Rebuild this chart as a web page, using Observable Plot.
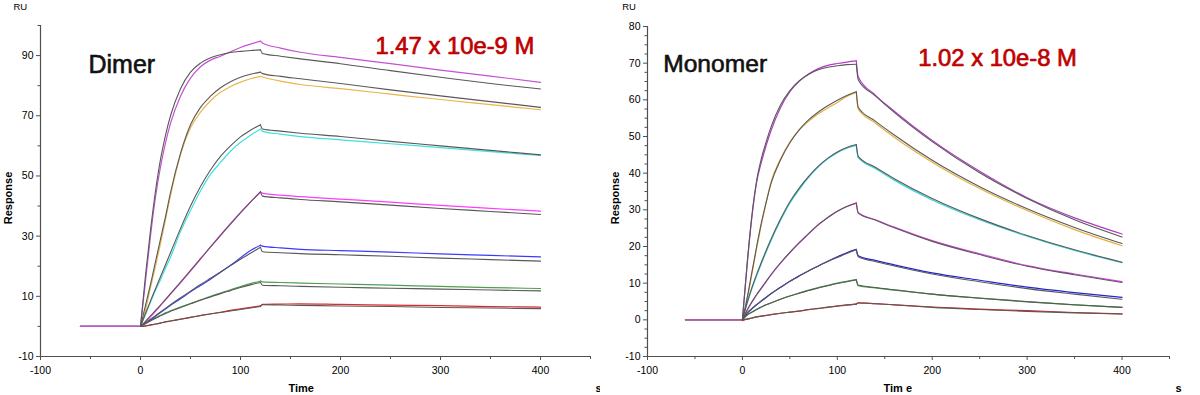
<!DOCTYPE html>
<html><head><meta charset="utf-8">
<script src="https://cdn.jsdelivr.net/npm/d3@7"></script>
<script src="https://cdn.jsdelivr.net/npm/@observablehq/plot@0.6"></script>
<style>
body{margin:0;background:#fff;}
#wrap{display:flex;width:1200px;height:395px;overflow:hidden;}
#wrap svg{display:block;flex:none;}
</style></head><body><div id="wrap"></div>
<script>
// ---------- DATA ----------
const baseTimes = [-60, 0];
const assocTimes = [0, 5, 10, 15, 20, 25, 30, 40, 50, 60, 70, 80, 90, 100, 110, 120];
const dissTimes = [120, 122, 140, 160, 200, 250, 300, 350, 400];

const xMajorTicks = [-100, 0, 100, 200, 300, 400];
const xMinorTicks = [-50, 50, 150, 250, 350, 450];
const dimerYTicks = [-10, 10, 30, 50, 70, 90];
const dimerYMinor = [0, 20, 40, 60, 80, 100];
const monoYTicks = [-10, 0, 10, 20, 30, 40, 50, 60, 70, 80];

const dimerTitle = "Dimer";
const dimerKD = "1.47 x 10e-9 M";
const monoTitle = "Monomer";
const monoKD = "1.02 x 10e-8 M";

// Dimer: measured (coloured) and fitted (black) responses, 7 concentrations, high to low
const dimerAssoc = [
  [0, 15, 30, 43, 53, 61, 67.5, 76.5, 82.5, 86.3, 88.5, 89.8, 91.3, 92.7, 93.8, 94.8],
  [0, 5.5, 13, 20, 27.5, 35.5, 43.5, 57, 66, 71.2, 75, 77.8, 79.7, 81.2, 82.3, 83.1],
  [0, 4, 8, 12, 15.5, 19.3, 23, 31.5, 38.5, 45, 50.5, 54.5, 58.2, 61.2, 63.5, 65.6],
  [0, 1.5, 3.2, 5, 6.9, 8.8, 10.7, 14.5, 18.4, 22.4, 26.4, 30.4, 34.2, 37.9, 41.4, 44.6],
  [0, 1.1, 2.2, 3.4, 4.6, 5.8, 7, 9.2, 11.5, 13.6, 15.7, 18, 20.3, 22.8, 25.2, 27],
  [0, 1.1, 2, 2.9, 3.7, 4.5, 5.2, 6.4, 7.6, 8.8, 10, 11.1, 12.2, 13.2, 14.2, 15.1],
  [0, 0.1, 0.4, 0.8, 1.1, 1.5, 1.8, 2.4, 3.0, 3.6, 4.2, 4.7, 5.3, 5.8, 6.3, 6.8]
];
const dimerAssocFit = [
  [0, 17, 32, 45, 55.5, 63.5, 70, 79, 84.5, 87.5, 89.3, 90.3, 91, 91.4, 91.7, 91.9],
  [0, 7, 14, 21.5, 29, 36.5, 44.5, 57.5, 67, 72.8, 76.5, 79.3, 81.3, 82.8, 83.8, 84.5],
  [0, 4.3, 8.5, 12.5, 16.5, 20.5, 24.5, 32.5, 40, 46.5, 52, 56.5, 60, 63, 65.2, 67],
  [0, 1.7, 3.5, 5.3, 7.1, 9, 10.9, 14.7, 18.6, 22.5, 26.4, 30.2, 34, 37.7, 41.3, 44.8],
  [0, 1.2, 2.4, 3.6, 4.8, 6, 7.2, 9.5, 11.7, 13.9, 16, 18.1, 20.2, 22.3, 24.3, 26.3],
  [0, 0.9, 1.8, 2.7, 3.5, 4.3, 5, 6.3, 7.5, 8.7, 9.8, 10.9, 11.9, 12.9, 13.8, 14.6],
  [0, 0.2, 0.5, 0.8, 1.1, 1.5, 1.8, 2.4, 3.0, 3.6, 4.1, 4.6, 5.1, 5.6, 6.1, 6.6]
];
const dimerDiss = [
  [94.8, 94.2, 92.5, 91.1, 89.4, 87.3, 85.2, 83.2, 81.1],
  [83.1, 82.9, 81.5, 80.4, 79.0, 77.2, 75.4, 73.7, 72.0],
  [65.6, 64.8, 63.9, 63.1, 62.0, 60.7, 59.4, 58.1, 56.8],
  [44.6, 44.3, 43.6, 43.1, 42.3, 41.3, 40.2, 39.2, 38.3],
  [27.0, 26.7, 26.1, 25.6, 25.2, 24.7, 24.1, 23.6, 23.1],
  [15.1, 14.8, 14.6, 14.4, 14.1, 13.7, 13.3, 12.9, 12.6],
  [6.8, 7.3, 7.4, 7.5, 7.3, 7.1, 6.9, 6.6, 6.4]
];
const dimerDissFit = [
  [91.9, 90.7, 89.8, 88.9, 87.3, 85.0, 82.8, 80.7, 78.9],
  [84.5, 84.0, 83.1, 82.3, 80.7, 78.6, 76.6, 74.7, 72.8],
  [67.0, 65.6, 64.9, 64.2, 63.1, 61.5, 60.0, 58.5, 57.0],
  [44.8, 43.3, 42.7, 42.2, 41.4, 40.3, 39.2, 38.2, 37.2],
  [26.3, 24.8, 24.5, 24.2, 23.8, 23.3, 22.7, 22.2, 21.7],
  [14.6, 13.7, 13.5, 13.3, 13.0, 12.7, 12.4, 12.1, 11.8],
  [6.6, 7.2, 7.1, 7.0, 6.8, 6.6, 6.3, 6.1, 5.9]
];

// Monomer
const monoAssoc = [
  [0, 15, 28, 37.5, 43, 47.5, 51.5, 57.8, 62.2, 65.1, 67.1, 68.5, 69.4, 69.9, 70.3, 70.6],
  [0, 5.5, 12.5, 19.5, 26, 32, 37.5, 43.8, 48.5, 51.8, 54.2, 56.2, 57.8, 59.3, 60.9, 62.1],
  [0, 4.5, 8.5, 12, 15.3, 18.5, 21.5, 27.0, 31.8, 35.6, 38.9, 41.7, 43.9, 45.6, 46.8, 47.6],
  [0, 2.6, 4.8, 6.8, 8.6, 10.4, 12.2, 15.4, 18.3, 21, 23.5, 26, 27.9, 29.6, 30.9, 31.9],
  [0, 1.8, 3, 4.1, 5.1, 6.1, 7.1, 8.8, 10.5, 12, 13.4, 14.7, 16, 17.2, 18.3, 19.2],
  [0, 1.4, 2.1, 2.9, 3.5, 4.1, 4.6, 5.6, 6.5, 7.3, 8.1, 8.8, 9.4, 10, 10.5, 11],
  [-0.2, 0.2, 0.5, 0.8, 1.0, 1.2, 1.4, 1.8, 2.1, 2.4, 2.8, 3.1, 3.5, 3.8, 4.1, 4.3]
];
const monoAssocFit = [
  [0, 15.5, 28.5, 38, 44, 48.5, 52.5, 58.5, 62.5, 65.2, 67, 68.2, 68.9, 69.3, 69.6, 69.7],
  [0, 6, 13, 20, 26.5, 32, 37, 43.5, 48.3, 51.9, 54.6, 56.7, 58.4, 59.9, 61.2, 62.2],
  [0, 4.7, 8.8, 12.4, 15.7, 18.9, 21.9, 27.4, 32.2, 36.0, 39.2, 41.9, 44.1, 45.8, 47.0, 47.8],
  [0, 2.7, 4.9, 6.9, 8.7, 10.5, 12.3, 15.5, 18.4, 21.1, 23.6, 25.9, 27.9, 29.6, 30.9, 31.8],
  [0, 1.9, 3.1, 4.2, 5.2, 6.2, 7.1, 8.9, 10.5, 12, 13.4, 14.7, 15.9, 17.0, 18.1, 19.1],
  [0, 1.3, 2.1, 2.8, 3.5, 4.1, 4.6, 5.6, 6.5, 7.3, 8.0, 8.7, 9.3, 9.9, 10.4, 10.9],
  [0, 0.2, 0.5, 0.8, 1.0, 1.2, 1.4, 1.8, 2.1, 2.4, 2.8, 3.1, 3.4, 3.7, 4.0, 4.3]
];
const monoDiss = [
  [70.6, 66.3, 61.3, 56.9, 48.9, 40.5, 33.3, 27.8, 23.4],
  [62.1, 57.5, 53.7, 49.8, 43.0, 35.8, 29.8, 24.6, 20.2],
  [47.6, 44.3, 41.3, 38.1, 32.7, 27.3, 22.8, 18.9, 15.6],
  [31.9, 29.3, 27.3, 25.3, 21.6, 18.0, 14.8, 12.5, 10.4],
  [19.2, 17.5, 16.2, 15.0, 12.8, 10.8, 8.9, 7.4, 6.1],
  [11.0, 9.3, 8.7, 8.1, 7.0, 5.9, 5.0, 4.1, 3.4],
  [4.3, 4.6, 4.4, 4.1, 3.5, 2.9, 2.5, 2.0, 1.6]
];
const monoDissFit = [
  [69.7, 65.5, 61.1, 56.6, 48.6, 40.1, 33.1, 27.3, 22.6],
  [62.2, 58.0, 54.2, 50.4, 43.5, 36.3, 30.3, 25.2, 20.8],
  [47.8, 44.6, 41.6, 38.5, 33.1, 27.6, 23.0, 19.1, 15.7],
  [31.8, 29.1, 27.2, 25.1, 21.4, 17.8, 14.6, 12.3, 10.2],
  [19.1, 17.2, 15.9, 14.7, 12.5, 10.4, 8.5, 7.0, 5.6],
  [10.9, 9.5, 8.8, 8.2, 7.0, 5.9, 4.9, 4.1, 3.4],
  [4.3, 4.6, 4.4, 4.1, 3.4, 2.8, 2.3, 1.9, 1.6]
];

// ---------- DRAWING ----------
const dimerColors = ["#c452d2", "#eab54c", "#3fe0e0", "#ff3cff", "#3b3bff", "#4f9f4f", "#e02a2a"];
const monoColors  = ["#b23cc4", "#e6ae3c", "#30d6dc", "#e040e8", "#2222d8", "#3f9a3f", "#e02020"];
const FIT = "#595959";
const AXIS = "#505050";
const FONT = "'Liberation Sans', Arial, sans-serif";

function buildRows(assoc, assocFit, diss, dissFit) {
  const data = [], fit = [];
  // lowest concentration first so the highest is drawn on top
  for (let s = assoc.length - 1; s >= 0; s--) {
    baseTimes.forEach(t => data.push({s, key: s + "b", t, r: 0}));
    assoc[s].forEach((r, i) => data.push({s, key: s + "a", t: assocTimes[i], r}));
    diss[s].forEach((r, i) => data.push({s, key: s + "d", t: dissTimes[i], r}));
    assocFit[s].forEach((r, i) => fit.push({s, key: s + "a", t: assocTimes[i], r}));
    dissFit[s].forEach((r, i) => fit.push({s, key: s + "d", t: dissTimes[i], r}));
  }
  return {data, fit};
}

function panel(cfg) {
  const {data, fit} = buildRows(cfg.assoc, cfg.assocFit, cfg.diss, cfg.dissFit);
  const yMin = cfg.yDomain[0];
  return Plot.plot({
    width: 600, height: 395,
    marginLeft: cfg.ml, marginRight: cfg.mr, marginTop: cfg.mt, marginBottom: 39,
    style: {fontFamily: FONT, fontSize: "10.5px", background: "#fff", color: "#000", overflow: "visible"},
    x: {domain: [-100, 450]},
    y: {domain: cfg.yDomain},
    marks: [
      Plot.ruleX([-100], {stroke: AXIS, strokeWidth: 1.2}),
      Plot.ruleY([yMin], {stroke: AXIS, strokeWidth: 1.2}),
      Plot.axisX({ticks: xMajorTicks, tickSize: 4, tickPadding: 6, tickFormat: d => String(d), label: null, stroke: AXIS, fontSize: 10.5}),
      Plot.axisX({ticks: xMinorTicks, tickSize: 3, tickFormat: () => "", label: null, stroke: AXIS}),
      Plot.axisY({ticks: cfg.yTicks, tickSize: 4, tickPadding: 3, tickFormat: d => String(d), label: null, stroke: AXIS, fontSize: 10.5}),
      Plot.axisY({ticks: cfg.yMinor, tickSize: 2.5, tickFormat: () => "", label: null, stroke: AXIS}),
      Plot.line(data, {x: "t", y: "r", z: "key", stroke: d => cfg.colors[d.s], strokeWidth: 1.2, curve: "monotone-x"}),
      Plot.line(fit, {x: "t", y: "r", z: "key", stroke: FIT, strokeWidth: 1.1, curve: "monotone-x"}),
      Plot.text([cfg.title], {text: d => d, frameAnchor: "top-left", dx: cfg.titleDx, dy: cfg.titleDy, textAnchor: "start", lineAnchor: "bottom", fontSize: cfg.titleSize, fill: "#111", stroke: "#111", strokeWidth: 0.6}),
      Plot.text([cfg.kd], {text: d => d, frameAnchor: "top-left", dx: cfg.kdDx, dy: cfg.kdDy, textAnchor: "start", lineAnchor: "bottom", fontSize: 23.8, fill: "#c00000", stroke: "#c00000", strokeWidth: 0.7}),
      Plot.text(["RU"], {text: d => d, frameAnchor: "top-left", dx: cfg.ruDx, dy: cfg.ruDy, textAnchor: "start", lineAnchor: "bottom", fontSize: 9.5}),
      Plot.text(["Response"], {text: d => d, frameAnchor: "left", dx: cfg.respDx, dy: cfg.respDy, rotate: -90, textAnchor: "middle", lineAnchor: "middle", fontSize: 11, fontWeight: "bold"}),
      Plot.text([cfg.timeLabel], {text: d => d, frameAnchor: "bottom-left", dx: cfg.timeDx, dy: 35.5, textAnchor: "start", lineAnchor: "bottom", fontSize: 11, fontWeight: "bold"}),
      Plot.text(["s"], {text: d => d, frameAnchor: "bottom-left", dx: cfg.sDx, dy: 35.5, textAnchor: "start", lineAnchor: "bottom", fontSize: 11, fontWeight: "bold"})
    ]
  });
}

const monoYMinor = d3.range(-10, 80.01, 2.5).filter(v => v % 10 !== 0);

const left = panel({
  ml: 40, mr: 10, mt: 25, yDomain: [-10, 100], yTicks: dimerYTicks, yMinor: dimerYMinor,
  assoc: dimerAssoc, assocFit: dimerAssocFit, diss: dimerDiss, dissFit: dimerDissFit, colors: dimerColors,
  title: dimerTitle, titleDx: 48, titleDy: 47.5, titleSize: 25,
  kd: dimerKD, kdDx: 335, kdDy: 28,
  ruDx: -27, ruDy: -15.5, respDx: -32, respDy: 7,
  timeLabel: "Time", timeDx: 248, sDx: 555
});
const right = panel({
  ml: 47, mr: 31, mt: 26, yDomain: [-10, 80], yTicks: monoYTicks, yMinor: monoYMinor,
  assoc: monoAssoc, assocFit: monoAssocFit, diss: monoDiss, dissFit: monoDissFit, colors: monoColors,
  title: monoTitle, titleDx: 15.7, titleDy: 45, titleSize: 24.6,
  kd: monoKD, kdDx: 270.7, kdDy: 39,
  ruDx: -25.3, ruDy: -16.5, respDx: -32, respDy: 6.5,
  timeLabel: "Tim e", timeDx: 236, sDx: 528
});
document.getElementById("wrap").append(left, right);
</script></body></html>
